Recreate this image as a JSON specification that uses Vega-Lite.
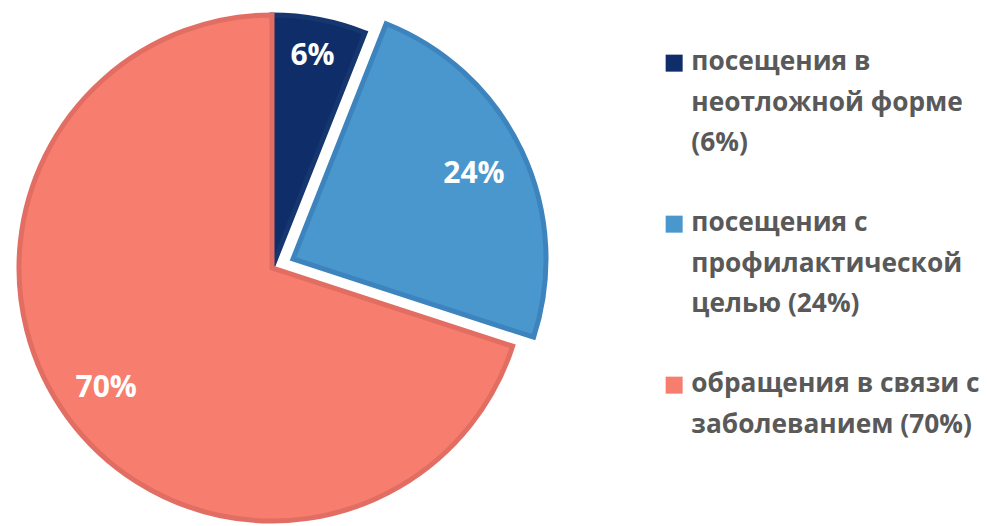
{
  "$schema": "https://vega.github.io/schema/vega-lite/v6.json",
  "width": 544,
  "height": 536,
  "padding": 0,
  "background": "white",
  "view": {"stroke": null},
  "config": {"style": {"guide-label": {"lineHeight": 40.5, "dy": -14}}},
  "data": {
    "values": [
      {"category": "посещения в неотложной форме (6%)", "value": 6, "label": "6%", "ord": 1, "explode": 0},
      {"category": "посещения с профилактической целью (24%)", "value": 24, "label": "24%", "ord": 2, "explode": 1},
      {"category": "обращения в связи с заболеванием (70%)", "value": 70, "label": "70%", "ord": 3, "explode": 0}
    ]
  },
  "encoding": {
    "theta": {"field": "value", "type": "quantitative", "stack": true, "scale": {"domain": [0, 100], "range": [0, 6.283185307]}},
    "order": {"field": "ord", "type": "quantitative"}
  },
  "layer": [
    {
      "mark": {"type": "arc", "outerRadius": 253, "strokeWidth": 5},
      "encoding": {
        "color": {
          "field": "category", "type": "nominal",
          "sort": ["посещения в неотложной форме (6%)", "посещения с профилактической целью (24%)", "обращения в связи с заболеванием (70%)"],
          "scale": {"domain": ["посещения в неотложной форме (6%)", "посещения с профилактической целью (24%)", "обращения в связи с заболеванием (70%)"], "range": ["#0F2D69", "#4A97CE", "#F77E6F"]},
          "legend": {
            "orient": "none", "legendX": 661, "legendY": 50, "title": null,
            "symbolType": "square", "symbolSize": 289, "symbolStrokeWidth": 0,
            "labelFont": "Open Sans", "labelFontSize": 26.3, "labelFontWeight": "bold", "labelColor": "#595959",
            "labelLimit": 400, "labelOffset": 4, "labelBaseline": "top", "rowPadding": 53,
            "labelExpr": "datum.value == 'посещения в неотложной форме (6%)' ? ['посещения в', 'неотложной форме', '(6%)'] : datum.value == 'посещения с профилактической целью (24%)' ? ['посещения с', 'профилактической', 'целью (24%)'] : ['обращения в связи с', 'заболеванием (70%)']"
          }
        },
        "stroke": {
          "field": "category", "type": "nominal", "legend": null,
          "scale": {"domain": ["посещения в неотложной форме (6%)", "посещения с профилактической целью (24%)", "обращения в связи с заболеванием (70%)"], "range": ["#163670", "#3D84BE", "#E26D62"]}
        },
        "opacity": {"condition": {"test": "datum.explode == 1", "value": 0}, "value": 1}
      }
    },
    {
      "mark": {"type": "arc", "outerRadius": 253, "strokeWidth": 5, "xOffset": 21, "yOffset": -9},
      "encoding": {
        "color": {"field": "category", "type": "nominal"},
        "stroke": {"field": "category", "type": "nominal", "legend": null},
        "opacity": {"condition": {"test": "datum.explode == 1", "value": 1}, "value": 0}
      }
    },
    {
      "mark": {"type": "text", "radius": 216, "font": "Open Sans", "fontSize": 30, "fontWeight": "bold", "color": "white", "baseline": "middle"},
      "encoding": {
        "text": {"field": "label", "type": "nominal"},
        "opacity": {"condition": {"test": "datum.ord == 1", "value": 1}, "value": 0}
      }
    },
    {
      "mark": {"type": "text", "radius": 205, "font": "Open Sans", "fontSize": 30, "fontWeight": "bold", "color": "white", "baseline": "middle"},
      "encoding": {
        "text": {"field": "label", "type": "nominal"},
        "opacity": {"condition": {"test": "datum.ord == 3", "value": 1}, "value": 0}
      }
    },
    {
      "mark": {"type": "text", "radius": 200, "font": "Open Sans", "fontSize": 30, "fontWeight": "bold", "color": "white", "baseline": "middle", "xOffset": 21, "yOffset": -9},
      "encoding": {
        "text": {"field": "label", "type": "nominal"},
        "opacity": {"condition": {"test": "datum.explode == 1", "value": 1}, "value": 0}
      }
    }
  ]
}
